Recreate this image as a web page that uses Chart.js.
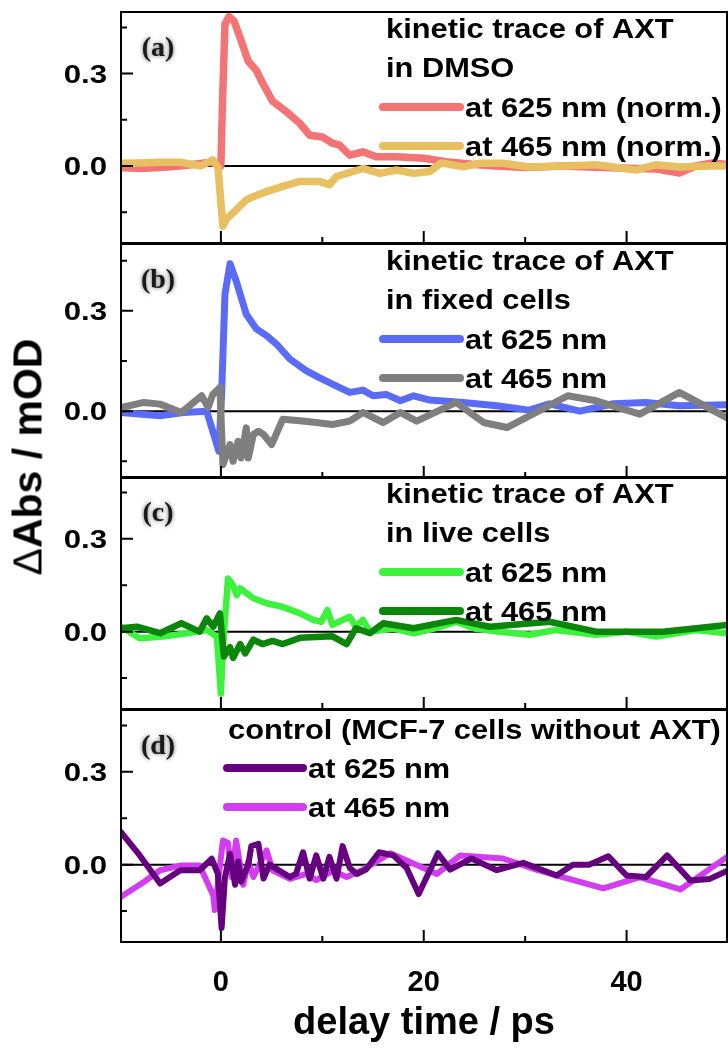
<!DOCTYPE html>
<html>
<head>
<meta charset="utf-8">
<script src="https://cdn.jsdelivr.net/npm/chart.js@4.4.1/dist/chart.umd.min.js"></script>
<style>
body { margin: 0; background: #fff; }
#page { position: relative; width: 728px; height: 1050px; overflow: hidden; }
.panel { position: absolute; left: 0; width: 728px; }
#ytitle {
  position: absolute; left: 28px; top: 457px;
  transform: translate(-50%, -50%) rotate(-90deg);
  font: bold 41px "Liberation Sans", Arial, sans-serif;
  white-space: nowrap; color: #000;
}
#ytitle span { font-weight: normal; }
</style>
</head>
<body>
<div id="page">
  <div class="panel" style="top:2px;height:243px"><canvas id="panelA"></canvas></div>
  <div class="panel" style="top:234px;height:246px"><canvas id="panelB"></canvas></div>
  <div class="panel" style="top:467px;height:244px"><canvas id="panelC"></canvas></div>
  <div class="panel" style="top:700px;height:350px"><canvas id="panelD"></canvas></div>
  <div id="ytitle"><span>&Delta;</span>Abs / mOD</div>
</div>
<script>
// tick values
var xMin = -9.85, xMax = 49.9;
var xMajorTicks = [0, 20, 40];
var xMinorTicks = [10, 30];
var yMajorTicks = [0, 0.3];
var yMinorTicks = [-0.15, 0.15, 0.45];

// (a) AXT in DMSO (normalised)
var dmsoTime625 = [-9.85, -8, -6, -4, -2, -1, -0.3, 0, 0.15, 0.4, 0.8, 1.3, 1.9, 2.7, 3.5, 4.1, 5.1, 6.5, 7.8, 8.75, 10, 11, 11.7, 12.7, 14, 15.3, 17.3, 20, 22.2, 25, 27, 30, 33.7, 37, 40, 43, 45.2, 46.8, 48.5, 49.9];
var dmsoAbs625 = [-0.005, -0.008, -0.005, 0.0, 0.008, 0.012, 0.005, 0.0, 0.2, 0.46, 0.485, 0.47, 0.416, 0.34, 0.31, 0.27, 0.21, 0.175, 0.138, 0.10, 0.094, 0.074, 0.068, 0.035, 0.046, 0.03, 0.03, 0.025, 0.014, 0.005, 0.0, -0.005, 0.0, -0.004, -0.007, -0.01, -0.023, 0.0, 0.01, 0.005];
var dmsoTime465 = [-9.85, -8, -6, -4, -2, -0.8, -0.3, 0.2, 0.6, 1.2, 2.5, 3.2, 4.5, 6.1, 7.8, 9.7, 10.7, 11.4, 14, 15.7, 17.3, 19, 20.6, 21.7, 23.9, 25.5, 27.8, 30.4, 33.7, 37, 40.9, 42.9, 45.2, 48, 49.9];
var dmsoAbs465 = [0.009, 0.01, 0.012, 0.012, 0.0, 0.02, -0.003, -0.195, -0.17, -0.152, -0.11, -0.1, -0.083, -0.066, -0.05, -0.05, -0.061, -0.034, -0.008, -0.024, -0.013, -0.024, -0.018, 0.01, -0.003, 0.009, 0.009, -0.003, 0.0, 0.004, -0.013, 0.004, -0.003, 0.0, 0.0];

// (b) AXT in fixed cells
var fixedTime625 = [-9.85, -6, -3.7, -1.4, -0.2, 0.07, 0.4, 0.9, 1.5, 2.5, 3.5, 4.5, 5.5, 6.8, 8.4, 9.7, 11, 12.7, 14, 15, 16.3, 17.7, 19, 20.6, 23.9, 27.2, 30.4, 32.4, 35.4, 38.7, 41.9, 45.2, 49.9];
var fixedAbs625 = [-0.004, -0.014, -0.004, 0.0, -0.12, 0.05, 0.35, 0.441, 0.39, 0.29, 0.246, 0.226, 0.2, 0.156, 0.121, 0.10, 0.081, 0.056, 0.063, 0.046, 0.05, 0.031, 0.046, 0.033, 0.026, 0.016, 0.003, 0.022, 0.0, 0.022, 0.026, 0.016, 0.019];
var fixedTime465 = [-9.85, -7.6, -6, -3.9, -1.9, -1.25, -0.8, -0.1, 0.2, 0.9, 1.2, 1.7, 2.0, 2.5, 2.7, 3.2, 3.7, 4.2, 5.0, 6.1, 7.8, 9.4, 11, 12.7, 14, 16, 17.7, 19.3, 23.2, 25.9, 28.2, 34.2, 37, 41.3, 45.2, 49.9];
var fixedAbs465 = [0.011, 0.026, 0.021, -0.004, 0.046, 0.011, 0.05, 0.071, -0.16, -0.1, -0.15, -0.09, -0.14, -0.05, -0.14, -0.07, -0.06, -0.07, -0.1, -0.024, -0.029, -0.034, -0.04, -0.03, -0.004, -0.034, -0.004, -0.03, 0.026, -0.034, -0.049, 0.046, 0.031, -0.009, 0.056, -0.02];

// (c) AXT in live cells
var liveTime625 = [-9.85, -8, -5.7, -3.4, -1.4, -0.4, 0.0, 0.2, 0.7, 1.2, 1.55, 1.9, 3.2, 4.5, 6.1, 7.8, 9.1, 9.9, 10.5, 11, 12.7, 13.3, 14, 14.7, 17, 19, 21, 23.2, 25, 27.5, 30.4, 33, 37, 40, 42.9, 46.8, 49.9];
var liveAbs625 = [0.016, -0.021, -0.016, -0.005, 0.005, -0.016, -0.2, -0.05, 0.172, 0.15, 0.118, 0.14, 0.108, 0.092, 0.08, 0.059, 0.038, 0.032, 0.07, 0.022, 0.048, 0.016, 0.038, 0.0, 0.01, -0.005, 0.01, 0.032, 0.01, 0.0, -0.01, 0.005, -0.01, 0.0, -0.016, 0.005, -0.005];
var liveTime465 = [-9.85, -8.3, -6, -3.9, -2.1, -1.4, -0.75, -0.1, 0.3, 0.9, 1.2, 1.9, 2.4, 3.2, 4.1, 5.1, 6.1, 7.8, 11, 12.4, 13.3, 14.7, 16, 19, 23.2, 26.5, 32.4, 37, 43.6, 49.9];
var liveAbs465 = [0.011, 0.016, -0.005, 0.027, 0.0, 0.043, 0.016, 0.059, -0.08, -0.05, -0.085, -0.04, -0.07, -0.026, -0.04, -0.03, -0.04, -0.02, -0.015, -0.04, 0.011, -0.005, 0.027, 0.011, 0.038, 0.016, 0.032, 0.0, 0.0, 0.022];

// (d) control, MCF-7 cells without AXT
var ctrlTime625 = [-9.85, -8, -6, -4, -2.1, -0.9, -0.3, 0.07, 0.4, 0.9, 1.4, 1.7, 2.0, 2.7, 3.0, 3.7, 4.2, 4.8, 5.8, 6.8, 7.4, 8.1, 8.75, 9.4, 10.1, 10.7, 11.4, 12, 12.7, 13.4, 14.3, 15.6, 17, 18.3, 19.5, 21.4, 22.6, 24.7, 27.2, 29.8, 33.1, 34.7, 36.3, 38.2, 40, 41.9, 44, 46.3, 48.2, 49.9];
var ctrlAbs625 = [0.105, 0.03, -0.061, -0.018, -0.018, 0.019, -0.03, -0.205, -0.04, 0.035, -0.065, 0.01, -0.055, 0.0, 0.06, 0.067, -0.045, 0.0, -0.02, -0.04, -0.03, 0.04, -0.045, 0.03, -0.045, 0.025, -0.045, 0.06, -0.01, -0.03, -0.016, 0.04, 0.03, -0.01, -0.095, 0.037, -0.016, 0.02, -0.018, 0.006, -0.035, 0.0, 0.0, 0.027, -0.035, -0.04, 0.03, -0.051, -0.046, -0.02];
var ctrlTime465 = [-9.85, -7.6, -6, -4, -2.1, -0.75, -0.6, -0.3, 0.2, 0.7, 1.05, 1.5, 2.2, 2.7, 3.2, 4.5, 5.1, 6.8, 8.4, 9.4, 11, 12.4, 14, 16.7, 21.3, 23.6, 27.8, 31.1, 33.7, 37.7, 41.3, 45.3, 46.8, 49.9];
var ctrlAbs465 = [-0.104, -0.056, -0.018, -0.003, -0.003, -0.1, -0.147, -0.06, 0.078, 0.07, -0.04, 0.078, -0.065, 0.01, -0.04, 0.046, -0.018, -0.046, -0.03, -0.05, -0.02, -0.04, -0.016, 0.037, -0.03, 0.03, 0.02, -0.016, -0.04, -0.077, -0.04, -0.08, -0.046, 0.025];

var FONT = '"Liberation Sans", Arial, sans-serif';

function pts(t, v) {
  return t.map(function (x, i) { return { x: x, y: v[i] }; });
}

// text drawn a bit wider than Arial, like the original figure
function wideText(ctx, txt, x, y, sx) {
  ctx.save();
  ctx.translate(x, y);
  ctx.scale(sx, 1);
  ctx.fillText(txt, 0, 0);
  ctx.restore();
}

var panelDecor = {
  id: 'panelDecor',
  beforeDatasetsDraw: function (chart) {
    var ctx = chart.ctx, a = chart.chartArea;
    var y0 = chart.scales.y.getPixelForValue(0);
    ctx.save();
    ctx.strokeStyle = '#000';
    ctx.lineWidth = 2;
    ctx.beginPath();
    ctx.moveTo(a.left, y0);
    ctx.lineTo(a.right, y0);
    ctx.stroke();
    ctx.restore();
  },
  afterDraw: function (chart, args, o) {
    var ctx = chart.ctx, a = chart.chartArea;
    var xs = chart.scales.x, ys = chart.scales.y;
    ctx.save();
    ctx.strokeStyle = '#000';
    ctx.lineWidth = 2;
    ctx.strokeRect(a.left, a.top, a.right - a.left, a.bottom - a.top);

    // ticks point inward
    ctx.beginPath();
    xMajorTicks.forEach(function (v) {
      var px = xs.getPixelForValue(v);
      ctx.moveTo(px, a.bottom); ctx.lineTo(px, a.bottom - 12);
    });
    xMinorTicks.forEach(function (v) {
      var px = xs.getPixelForValue(v);
      ctx.moveTo(px, a.bottom); ctx.lineTo(px, a.bottom - 6);
    });
    yMajorTicks.forEach(function (v) {
      var py = ys.getPixelForValue(v);
      ctx.moveTo(a.left, py); ctx.lineTo(a.left + 12, py);
    });
    yMinorTicks.forEach(function (v) {
      var py = ys.getPixelForValue(v);
      ctx.moveTo(a.left, py); ctx.lineTo(a.left + 6, py);
    });
    ctx.stroke();

    ctx.fillStyle = '#000';
    ctx.font = 'bold 26px ' + FONT;
    ctx.textAlign = 'right';
    ctx.textBaseline = 'alphabetic';
    yMajorTicks.forEach(function (v) {
      wideText(ctx, v.toFixed(1), a.left - 14, ys.getPixelForValue(v) + 9, 1.2);
    });

    // panel letter
    ctx.save();
    ctx.font = 'bold 28px "Liberation Serif", "Times New Roman", serif';
    ctx.textAlign = 'center';
    ctx.textBaseline = 'middle';
    ctx.fillStyle = '#1a1a1a';
    ctx.shadowColor = 'rgba(0,0,0,0.6)';
    ctx.shadowBlur = 4;
    ctx.fillText(o.letter, a.left + 37, a.top + 37);
    ctx.restore();

    // legend
    ctx.font = 'bold 28px ' + FONT;
    ctx.textAlign = 'left';
    ctx.fillStyle = '#000';
    o.header.forEach(function (line, i) {
      wideText(ctx, line, o.headX, a.top + o.headY + i * 39, 1.1);
    });
    chart.data.datasets.forEach(function (ds, i) {
      var ly = a.top + o.rowY + i * 39;
      ctx.save();
      ctx.strokeStyle = ds.borderColor;
      ctx.lineWidth = 8;
      ctx.lineCap = 'round';
      ctx.beginPath();
      ctx.moveTo(o.lineX0, ly);
      ctx.lineTo(o.lineX1, ly);
      ctx.stroke();
      ctx.restore();
      wideText(ctx, ds.label, o.lineX1 + 5, ly + 10, 1.1);
    });
    ctx.restore();
  }
};

function makePanel(id, sets, yMin, decor, bottom) {
  return new Chart(document.getElementById(id), {
    type: 'line',
    data: {
      datasets: sets.map(function (s) {
        return {
          label: s.label,
          data: pts(s.t, s.v),
          borderColor: s.color,
          borderWidth: s.width,
          order: s.order,
          pointRadius: 0,
          tension: 0,
          borderJoinStyle: 'round',
          borderCapStyle: 'round',
          fill: false
        };
      })
    },
    options: {
      responsive: true,
      maintainAspectRatio: false,
      animation: false,
      events: [],
      layout: { padding: { left: 121, right: 1, top: 10, bottom: bottom ? 0 : 2 } },
      plugins: {
        legend: { display: false },
        tooltip: { enabled: false },
        panelDecor: decor
      },
      scales: {
        x: {
          type: 'linear',
          min: xMin,
          max: xMax,
          display: bottom,
          afterFit: function (s) { if (bottom) s.height = 108; },
          afterBuildTicks: function (s) {
            s.ticks = xMajorTicks.map(function (v) { return { value: v }; });
          },
          grid: { display: false, drawTicks: false },
          border: { display: false },
          ticks: {
            autoSkip: false,
            maxRotation: 0,
            padding: 24,
            color: '#000',
            font: { family: FONT, size: 29, weight: 'bold' }
          },
          title: {
            display: true,
            text: 'delay time / ps',
            color: '#000',
            font: { family: FONT, size: 38, weight: 'bold' },
            padding: { top: 0, bottom: 4 }
          }
        },
        y: { min: yMin, max: 0.5, display: false }
      }
    },
    plugins: [panelDecor]
  });
}

var cellHead = { headX: 386, headY: 26, rowY: 95, lineX0: 383, lineX1: 460 };

makePanel('panelA', [
  { label: 'at 625 nm (norm.)', t: dmsoTime625, v: dmsoAbs625, color: '#F37474', width: 7.5, order: 1 },
  { label: 'at 465 nm (norm.)', t: dmsoTime465, v: dmsoAbs465, color: '#E8C062', width: 7.5, order: 0 }
], -0.25, Object.assign({ letter: '(a)', header: ['kinetic trace of AXT', 'in DMSO'] }, cellHead), false);

makePanel('panelB', [
  { label: 'at 625 nm', t: fixedTime625, v: fixedAbs625, color: '#5A6CF5', width: 7, order: 1 },
  { label: 'at 465 nm', t: fixedTime465, v: fixedAbs465, color: '#7F7F7F', width: 7, order: 0 }
], -0.2, Object.assign({ letter: '(b)', header: ['kinetic trace of AXT', 'in fixed cells'] }, cellHead), false);

makePanel('panelC', [
  { label: 'at 625 nm', t: liveTime625, v: liveAbs625, color: '#3DF23D', width: 6.5, order: 1 },
  { label: 'at 465 nm', t: liveTime465, v: liveAbs465, color: '#0B860B', width: 6.5, order: 0 }
], -0.25, Object.assign({ letter: '(c)', header: ['kinetic trace of AXT', 'in live cells'] }, cellHead), false);

makePanel('panelD', [
  { label: 'at 625 nm', t: ctrlTime625, v: ctrlAbs625, color: '#65007F', width: 6, order: 0 },
  { label: 'at 465 nm', t: ctrlTime465, v: ctrlAbs465, color: '#D23DF0', width: 6, order: 1 }
], -0.25, { letter: '(d)', header: ['control (MCF-7 cells without AXT)'], headX: 228, headY: 29, rowY: 58, lineX0: 227, lineX1: 303 }, true);
</script>
</body>
</html>
